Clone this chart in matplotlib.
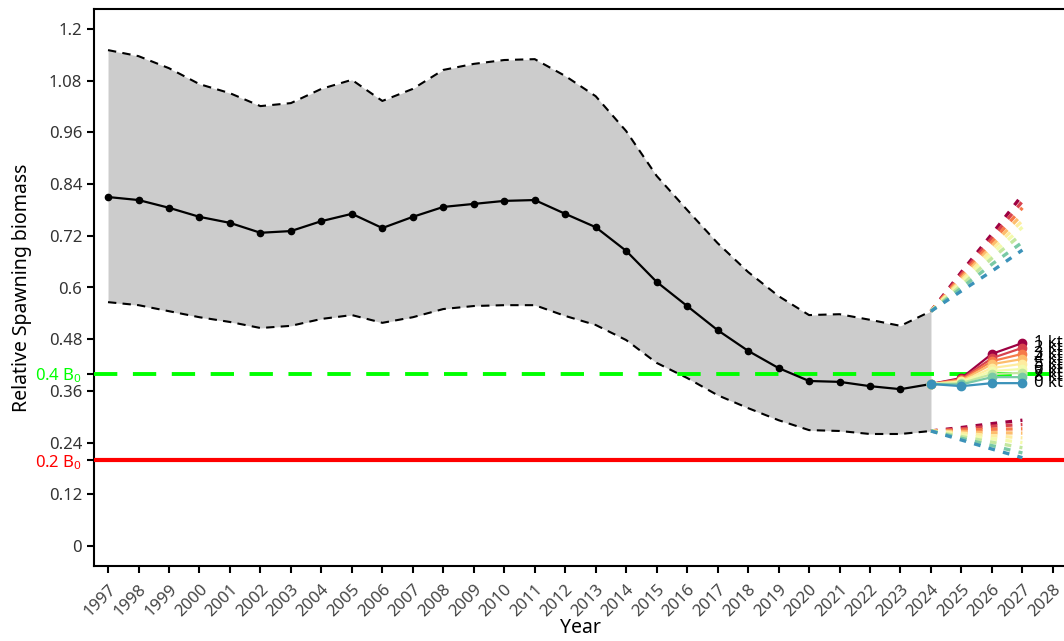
import matplotlib
matplotlib.use("Agg")
import matplotlib.pyplot as plt
import numpy as np

plt.rcParams["font.family"] = ["Noto Sans", "DejaVu Sans"]
plt.rcParams["mathtext.default"] = "regular"

years = list(range(1997, 2025))
median = [0.810, 0.803, 0.785, 0.764, 0.750, 0.727, 0.731, 0.754, 0.771, 0.738,
          0.764, 0.787, 0.794, 0.801, 0.803, 0.771, 0.740, 0.685, 0.613, 0.557,
          0.501, 0.453, 0.413, 0.383, 0.381, 0.371, 0.364, 0.376]
upper = [1.151, 1.137, 1.109, 1.072, 1.051, 1.021, 1.028, 1.061, 1.082, 1.033,
         1.061, 1.105, 1.119, 1.128, 1.130, 1.091, 1.044, 0.963, 0.859, 0.780,
         0.703, 0.636, 0.580, 0.536, 0.538, 0.525, 0.511, 0.545]
lower = [0.566, 0.559, 0.545, 0.531, 0.520, 0.506, 0.511, 0.527, 0.536, 0.518,
         0.531, 0.550, 0.557, 0.559, 0.559, 0.534, 0.513, 0.478, 0.425, 0.390,
         0.350, 0.320, 0.292, 0.269, 0.267, 0.260, 0.260, 0.267]

proj_years = [2024, 2025, 2026, 2027]
proj_labels = ["1 kt", "2 kt", "3 kt", "4 kt", "5 kt", "6 kt", "7 kt", "8 kt", "0 kt"]
proj_median = [
    [0.376, 0.390, 0.446, 0.471],
    [0.376, 0.388, 0.436, 0.460],
    [0.376, 0.386, 0.429, 0.446],
    [0.376, 0.384, 0.422, 0.434],
    [0.376, 0.382, 0.413, 0.423],
    [0.376, 0.380, 0.406, 0.411],
    [0.376, 0.378, 0.399, 0.402],
    [0.376, 0.375, 0.392, 0.392],
    [0.376, 0.371, 0.378, 0.378],
]
proj_upper = [
    [0.545, 0.636, 0.724, 0.815],
    [0.545, 0.631, 0.715, 0.800],
    [0.545, 0.626, 0.706, 0.785],
    [0.545, 0.621, 0.697, 0.770],
    [0.545, 0.616, 0.688, 0.755],
    [0.545, 0.611, 0.678, 0.740],
    [0.545, 0.605, 0.668, 0.725],
    [0.545, 0.599, 0.654, 0.705],
    [0.545, 0.592, 0.638, 0.687],
]
proj_lower = [
    [0.267, 0.275, 0.284, 0.292],
    [0.267, 0.272, 0.278, 0.282],
    [0.267, 0.269, 0.271, 0.272],
    [0.267, 0.265, 0.263, 0.262],
    [0.267, 0.262, 0.256, 0.251],
    [0.267, 0.258, 0.249, 0.240],
    [0.267, 0.254, 0.241, 0.228],
    [0.267, 0.250, 0.233, 0.216],
    [0.267, 0.246, 0.225, 0.205],
]

yticks = [0, 0.12, 0.24, 0.36, 0.48, 0.6, 0.72, 0.84, 0.96, 1.08, 1.2]
ytick_labels = ["0", "0.12", "0.24", "0.36", "0.48", "0.6", "0.72", "0.84", "0.96", "1.08", "1.2"]
ref_levels = [0.4, 0.2]
ref_labels = ["0.4 B$_0$", "0.2 B$_0$"]
ref_colors = ["#00ff00", "#ff0000"]


def main():
    fig = plt.figure(figsize=(10.64, 6.41), dpi=100)
    ax = fig.add_axes([94 / 1064, 75 / 641, 972 / 1064, 557 / 641])

    ax.fill_between(years, lower, upper, color="#cccccc", linewidth=0, zorder=1)
    ax.plot(years, upper, color="black", ls=(0, (4, 3)), lw=1.5, zorder=2)
    ax.plot(years, lower, color="black", ls=(0, (4, 3)), lw=1.5, zorder=2)

    ax.axhline(ref_levels[0], color=ref_colors[0], lw=2.8, ls=(0, (6, 4)), zorder=3)
    ax.axhline(ref_levels[1], color=ref_colors[1], lw=3, zorder=3)

    ax.plot(years, median, color="black", lw=1.6, marker="o", ms=4.5, zorder=5)

    cmap = plt.get_cmap("Spectral")
    n = len(proj_labels)
    colors = [cmap(v) for v in np.linspace(0.0, 0.88, n)]
    for i in range(n):
        c = colors[i]
        ax.plot(proj_years, proj_upper[i], color=c, ls=(0, (2, 2.5)), lw=2.4, zorder=4)
        ax.plot(proj_years, proj_lower[i], color=c, ls=(0, (2, 2.5)), lw=2.4, zorder=4)
        ax.plot(proj_years, proj_median[i], color=c, lw=1.6, marker="o", ms=6, zorder=6)
        ax.text(2027.38, proj_median[i][-1], proj_labels[i], fontsize=12,
                va="center", ha="left", zorder=7)

    ax.set_xlim(1996.54, 2028.43)
    ax.set_ylim(-0.0464, 1.2464)
    xt = list(range(1997, 2029))
    ax.set_xticks(xt)
    ax.set_xticklabels([str(y) for y in xt], rotation=45, ha="right",
                       rotation_mode="anchor", color="#444444")
    ax.set_yticks(yticks + ref_levels)
    ax.set_yticklabels(ytick_labels + ref_labels)
    ticklabels = ax.get_yticklabels()
    for lab, col in zip(ticklabels[len(yticks):], ref_colors):
        lab.set_color(col)
    for lab in ticklabels[:len(yticks)]:
        lab.set_color("#333333")

    ax.tick_params(axis="both", labelsize=12, width=1.5, length=5, direction="out")
    ax.tick_params(axis="x", pad=6)
    for s in ax.spines.values():
        s.set_linewidth(1.5)

    ax.set_xlabel("Year", fontsize=14, labelpad=-1)
    ax.set_ylabel("Relative Spawning biomass", fontsize=14, labelpad=2)

    fig.savefig("out.png", dpi=100)


if __name__ == "__main__":
    main()
